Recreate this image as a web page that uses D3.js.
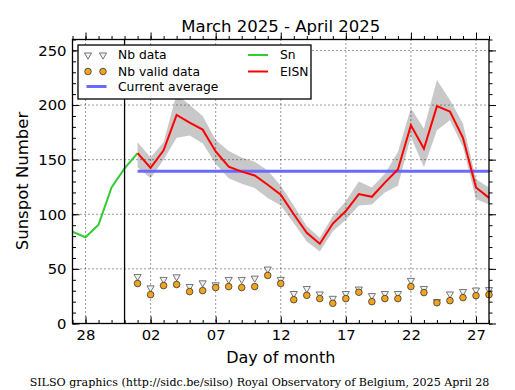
<!DOCTYPE html>
<html>
<head>
<meta charset="utf-8">
<script src="https://cdn.jsdelivr.net/npm/d3@7"></script>
<style>
  body { margin: 0; background: #fff; }
  text { font-family: "DejaVu Sans", sans-serif; fill: #000; }
</style>
</head>
<body>
<svg id="chart" width="515" height="390"></svg>
<script>
// --- data ---
const snDays = ["2025-03-27", "2025-03-28", "2025-03-29", "2025-03-30", "2025-03-31", "2025-04-01"];
const snValues = [84, 79, 90.5, 124.5, 142, 156];

const aprilDays = [
  "2025-04-01", "2025-04-02", "2025-04-03", "2025-04-04", "2025-04-05", "2025-04-06", "2025-04-07",
  "2025-04-08", "2025-04-09", "2025-04-10", "2025-04-11", "2025-04-12", "2025-04-13", "2025-04-14",
  "2025-04-15", "2025-04-16", "2025-04-17", "2025-04-18", "2025-04-19", "2025-04-20", "2025-04-21",
  "2025-04-22", "2025-04-23", "2025-04-24", "2025-04-25", "2025-04-26", "2025-04-27", "2025-04-28",
];
const eisnValues = [156, 142.5, 158.5, 191, 184, 177.5, 157.5, 143.5, 139, 135.5, 127, 118, 100, 83,
  73, 91.5, 103, 118.5, 116, 129, 141, 181.5, 160, 199, 194, 170, 124.5, 115];
const eisnUpper = [166, 152, 166, 210, 200, 190, 168, 158, 152, 148, 140, 126, 108, 89,
  78.5, 98.5, 112, 130, 124.5, 137, 157, 197, 178.5, 223, 204.5, 183, 132, 124.5];
const eisnLower = [143, 133, 150, 170, 172, 165, 146, 133, 128, 124, 115, 108, 92, 75,
  66, 84.5, 95, 108, 109, 120, 126, 171, 143, 177, 186, 161.5, 114, 109];
const nbData = [43, 32.6, 40.3, 42.7, 33.8, 37.2, 35.4, 40.3, 40.3, 41.5, 49.8, 40.3, 27.4, 32,
  27, 23, 27.4, 31.5, 25.5, 27.4, 27.4, 39.4, 32, 20, 27, 29.2, 30.6, 31];
const nbValid = [36.6, 26.4, 34.7, 35.7, 29.2, 30.1, 32.9, 33.8, 32.9, 33.8, 44, 36.6, 21.8, 25.8,
  22.8, 18.5, 22.8, 28.6, 20, 22.8, 22.8, 33.8, 28.3, 19, 20.9, 23.7, 25.5, 26.4];
const currentAverage = 139.4;
const monthBreak = "2025-03-31";

const xTickDays = ["2025-03-28", "2025-04-02", "2025-04-07", "2025-04-12", "2025-04-17", "2025-04-22", "2025-04-27"];
const xTickLabels = ["28", "02", "07", "12", "17", "22", "27"];
const yTicks = [0, 50, 100, 150, 200, 250];

const parse = d3.utcParse("%Y-%m-%d");

const PLOT = { left: 72.5, right: 489, top: 39.5, bottom: 323.5 };

const svg = d3.select("#chart");

const x = d3
  .scaleUtc()
  .domain([parse("2025-03-27"), parse("2025-04-28")])
  .range([PLOT.left, PLOT.right]);

const y = d3.scaleLinear().domain([0, 260]).range([PLOT.bottom, PLOT.top]);

const april = aprilDays.map(parse);

// error band
const band = d3
  .area()
  .x((d, i) => x(april[i]))
  .y0((d, i) => y(eisnLower[i]))
  .y1((d, i) => y(eisnUpper[i]));

svg.append("path").datum(eisnValues).attr("d", band).attr("fill", "#c8c8c8").attr("stroke", "none");

// grid
const grid = svg.append("g").attr("stroke", "#000").attr("stroke-width", 0.8).attr("stroke-dasharray", "1,3");
grid
  .selectAll(".vgrid")
  .data(xTickDays.map(parse))
  .join("line")
  .attr("x1", (d) => x(d))
  .attr("x2", (d) => x(d))
  .attr("y1", PLOT.top)
  .attr("y2", PLOT.bottom);
grid
  .selectAll(".hgrid")
  .data(yTicks.slice(1))
  .join("line")
  .attr("x1", PLOT.left)
  .attr("x2", PLOT.right)
  .attr("y1", (d) => y(d))
  .attr("y2", (d) => y(d));

// current average
svg
  .append("line")
  .attr("x1", x(april[0]))
  .attr("x2", x(april[april.length - 1]))
  .attr("y1", y(currentAverage))
  .attr("y2", y(currentAverage))
  .attr("stroke", "#6a6aff")
  .attr("stroke-width", 3);

// Sn line
const line = d3.line().x((d) => x(d[0])).y((d) => y(d[1]));
svg
  .append("path")
  .datum(snDays.map((d, i) => [parse(d), snValues[i]]))
  .attr("d", line)
  .attr("fill", "none")
  .attr("stroke", "#33cc33")
  .attr("stroke-width", 2);

// EISN line
svg
  .append("path")
  .datum(april.map((d, i) => [d, eisnValues[i]]))
  .attr("d", line)
  .attr("fill", "none")
  .attr("stroke", "#ff0000")
  .attr("stroke-width", 2);

// month break
svg
  .append("line")
  .attr("x1", x(parse(monthBreak)))
  .attr("x2", x(parse(monthBreak)))
  .attr("y1", PLOT.top)
  .attr("y2", PLOT.bottom)
  .attr("stroke", "#000")
  .attr("stroke-width", 1.3);

// markers
const tri = d3.symbol().type(d3.symbolTriangle).size(22);
svg
  .append("g")
  .selectAll("path")
  .data(nbData)
  .join("path")
  .attr("d", tri)
  .attr("transform", (d, i) => `translate(${x(april[i])},${y(d)}) rotate(180)`)
  .attr("fill", "#eef2f4")
  .attr("stroke", "#555")
  .attr("stroke-width", 0.8);

svg
  .append("g")
  .selectAll("circle")
  .data(nbValid)
  .join("circle")
  .attr("cx", (d, i) => x(april[i]))
  .attr("cy", (d) => y(d))
  .attr("r", 3.3)
  .attr("fill", "#f2a41e")
  .attr("stroke", "#333")
  .attr("stroke-width", 0.8);

// axes (ticks point inward)
const allDays = d3.utcDay.range(parse("2025-03-27"), parse("2025-04-29"));
const xMajor = xTickDays.map(parse);
const yMinor = d3.range(0, 261, 10);

function xAxes(axisFn, yPos, withLabels) {
  const inward = axisFn === d3.axisBottom ? -1 : 1;
  svg
    .append("g")
    .attr("transform", `translate(0,${yPos})`)
    .call(axisFn(x).tickValues(allDays).tickSize(3.5 * inward).tickFormat(""))
    .call((g) => g.select(".domain").remove());
  const g = svg
    .append("g")
    .attr("transform", `translate(0,${yPos})`)
    .call(
      axisFn(x)
        .tickValues(xMajor)
        .tickSize(7 * inward)
        .tickPadding(6)
        .tickFormat((d, i) => (withLabels ? xTickLabels[i] : ""))
    );
  g.select(".domain").remove();
  g.selectAll("text").attr("font-size", 14.8).attr("font-family", "DejaVu Sans");
}
xAxes(d3.axisBottom, PLOT.bottom, true);
xAxes(d3.axisTop, PLOT.top, false);

function yAxes(axisFn, xPos, withLabels) {
  const inward = axisFn === d3.axisLeft ? -1 : 1;
  svg
    .append("g")
    .attr("transform", `translate(${xPos},0)`)
    .call(axisFn(y).tickValues(yMinor).tickSize(3.5 * inward).tickFormat(""))
    .call((g) => g.select(".domain").remove());
  const g = svg
    .append("g")
    .attr("transform", `translate(${xPos},0)`)
    .call(
      axisFn(y)
        .tickValues(yTicks)
        .tickSize(7 * inward)
        .tickPadding(6)
        .tickFormat(withLabels ? d3.format("d") : "")
    );
  g.select(".domain").remove();
  g.selectAll("text").attr("font-size", 14.8).attr("font-family", "DejaVu Sans");
}
yAxes(d3.axisLeft, PLOT.left, true);
yAxes(d3.axisRight, PLOT.right, false);

svg
  .append("rect")
  .attr("x", PLOT.left)
  .attr("y", PLOT.top)
  .attr("width", PLOT.right - PLOT.left)
  .attr("height", PLOT.bottom - PLOT.top)
  .attr("fill", "none")
  .attr("stroke", "#000")
  .attr("stroke-width", 1.3);

// titles
svg
  .append("text")
  .attr("x", (PLOT.left + PLOT.right) / 2)
  .attr("y", 32)
  .attr("text-anchor", "middle")
  .attr("font-size", 16.5)
  .text("March 2025 - April 2025");

svg
  .append("text")
  .attr("x", (PLOT.left + PLOT.right) / 2)
  .attr("y", 363)
  .attr("text-anchor", "middle")
  .attr("font-size", 16)
  .text("Day of month");

svg
  .append("text")
  .attr("transform", `translate(28,181) rotate(-90)`)
  .attr("text-anchor", "middle")
  .attr("font-size", 16.5)
  .text("Sunspot Number");

svg
  .append("text")
  .attr("x", 259.5)
  .attr("y", 386)
  .attr("text-anchor", "middle")
  .attr("font-size", 11.1)
  .style("font-family", "'DejaVu Serif', serif")
  .text("SILSO graphics (http://sidc.be/silso) Royal Observatory of Belgium, 2025 April 28");

// legend
const legend = svg.append("g").attr("transform", "translate(78,45)");
legend
  .append("rect")
  .attr("width", 233)
  .attr("height", 54)
  .attr("fill", "#fff")
  .attr("stroke", "#000")
  .attr("stroke-width", 1.3);

const rowY = [10, 26.5, 41.5];
[10, 25].forEach((dx) => {
  legend
    .append("path")
    .attr("d", tri)
    .attr("transform", `translate(${dx},${rowY[0]}) rotate(180)`)
    .attr("fill", "#eef2f4")
    .attr("stroke", "#555")
    .attr("stroke-width", 0.8);
  legend
    .append("circle")
    .attr("cx", dx)
    .attr("cy", rowY[1])
    .attr("r", 3.3)
    .attr("fill", "#f2a41e")
    .attr("stroke", "#333")
    .attr("stroke-width", 0.8);
});
legend
  .append("line")
  .attr("x1", 8.5)
  .attr("x2", 28.5)
  .attr("y1", rowY[2])
  .attr("y2", rowY[2])
  .attr("stroke", "#6a6aff")
  .attr("stroke-width", 3);
legend
  .append("line")
  .attr("x1", 170)
  .attr("x2", 190)
  .attr("y1", rowY[0])
  .attr("y2", rowY[0])
  .attr("stroke", "#33cc33")
  .attr("stroke-width", 2);
legend
  .append("line")
  .attr("x1", 170)
  .attr("x2", 190)
  .attr("y1", rowY[1])
  .attr("y2", rowY[1])
  .attr("stroke", "#ff0000")
  .attr("stroke-width", 2);

const legendTexts = [
  [40, rowY[0], "Nb data"],
  [40, rowY[1], "Nb valid data"],
  [40, rowY[2], "Current average"],
  [202, rowY[0], "Sn"],
  [202, rowY[1], "EISN"],
];
legend
  .selectAll(".legend-label")
  .data(legendTexts)
  .join("text")
  .attr("class", "legend-label")
  .attr("x", (d) => d[0])
  .attr("y", (d) => d[1])
  .attr("dy", "0.36em")
  .attr("font-size", 12.3)
  .text((d) => d[2]);
</script>
</body>
</html>
